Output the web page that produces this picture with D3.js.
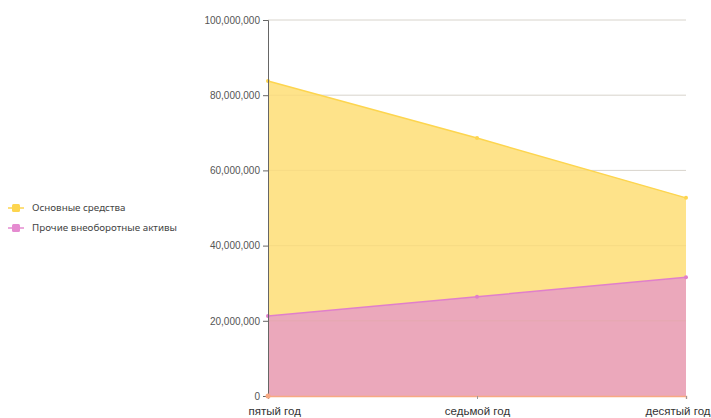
<!DOCTYPE html>
<html>
<head>
<meta charset="utf-8">
<script src="https://cdn.jsdelivr.net/npm/d3@7"></script>
<style>
  html, body { margin: 0; padding: 0; background: #fff; }
  svg { display: block; font-family: "Liberation Sans", Arial, sans-serif; }
</style>
</head>
<body>
<svg id="chart" width="711" height="418"></svg>
<script>
// Periods along the x axis
const categories = ["пятый год", "седьмой год", "десятый год"];
// Series, stacked bottom to top
const otherAssets = [21300000, 26400000, 31600000];   // Прочие внеоборотные активы
const fixedAssets = [62500000, 42200000, 21100000];   // Основные средства
const yTicks = [0, 20000000, 40000000, 60000000, 80000000, 100000000];

const series = [
  { name: "Прочие внеоборотные активы", values: otherAssets, fill: "#eba8bb", stroke: "#e07fcb", marker: "#e58bd0" },
  { name: "Основные средства", values: fixedAssets, fill: "#fee38a", stroke: "#fdd54f", marker: "#fdd54f" }
];

const svg = d3.select("#chart");
const margin = { left: 268, right: 25, top: 20, bottom: 22 };
const W = 711, H = 418;

const x = d3.scalePoint().domain(categories).range([margin.left, W - margin.right]);
const y = d3.scaleLinear().domain([0, 100000000]).range([H - margin.bottom, margin.top]);

// Gridlines
svg.append("g")
  .selectAll("line")
  .data(yTicks)
  .join("line")
  .attr("x1", margin.left).attr("x2", W - margin.right)
  .attr("y1", d => y(d)).attr("y2", d => y(d))
  .attr("stroke", "#dcdcdc").attr("stroke-width", 1);

// Stack the series
const rows = categories.map((c, i) => {
  const r = { cat: c };
  series.forEach(s => r[s.name] = s.values[i]);
  return r;
});
const stacked = d3.stack().keys(series.map(s => s.name))(rows);

const area = d3.area()
  .x(d => x(d.data.cat))
  .y0(d => y(d[0]))
  .y1(d => y(d[1]));
const line = d3.line()
  .x(d => x(d.data.cat))
  .y(d => y(d[1]));

stacked.forEach((layer, i) => {
  const s = series[i];
  svg.append("path").datum(layer)
    .attr("d", area)
    .attr("fill", s.fill);
});
// Gridlines faintly visible over the areas
svg.append("g")
  .selectAll("line")
  .data(yTicks.slice(1))
  .join("line")
  .attr("x1", margin.left).attr("x2", W - margin.right)
  .attr("y1", d => y(d)).attr("y2", d => y(d))
  .attr("stroke", "#c8a860").attr("stroke-opacity", 0.12).attr("stroke-width", 1);

stacked.forEach((layer, i) => {
  const s = series[i];
  svg.append("path").datum(layer)
    .attr("d", line)
    .attr("fill", "none")
    .attr("stroke", s.stroke)
    .attr("stroke-width", 1.5);
  svg.append("g").selectAll("circle")
    .data(layer)
    .join("circle")
    .attr("cx", d => x(d.data.cat))
    .attr("cy", d => y(d[1]))
    .attr("r", 2)
    .attr("fill", s.stroke);
});

// Y axis
const yAxis = d3.axisLeft(y)
  .tickValues(yTicks)
  .tickFormat(d3.format(","))
  .tickSize(5)
  .tickPadding(3);
const gy = svg.append("g")
  .attr("transform", `translate(${margin.left},0)`)
  .call(yAxis);
gy.select(".domain").attr("stroke", "#666").attr("stroke-width", 1);
gy.selectAll(".tick line").attr("stroke", "#666");
gy.selectAll(".tick text").attr("fill", "#555").style("font-size", "10px");

// X axis
const xAxis = d3.axisBottom(x).tickSize(3).tickPadding(8);
const gx = svg.append("g")
  .attr("transform", `translate(0,${y(0)})`)
  .call(xAxis);
gx.select(".domain").attr("stroke", "#f7a983").attr("stroke-width", 1.5);
gx.selectAll(".tick line").attr("stroke", "#999");
gx.selectAll(".tick text").attr("fill", "#333").style("font-size", "11.5px");
// Keep the outer labels inside the drawing area
const last = categories.length - 1;
gx.selectAll(".tick text")
  .attr("text-anchor", (d, i) => i === 0 ? "start" : i === last ? "end" : "middle")
  .attr("dx", (d, i) => i === 0 ? -20 : i === last ? 24 : 0);
svg.append("circle")
  .attr("cx", x(categories[0])).attr("cy", y(0)).attr("r", 2.5).attr("fill", "#f7a983");

// Legend
const legendItems = [series[1], series[0]];
const lg = svg.append("g").attr("transform", "translate(8,208)");
legendItems.forEach((s, i) => {
  const g = lg.append("g").attr("transform", `translate(0,${i * 20})`);
  g.append("line").attr("x1", 0).attr("x2", 16).attr("y1", 0).attr("y2", 0)
    .attr("stroke", s.marker).attr("stroke-width", 1.5);
  g.append("rect").attr("x", 4).attr("y", -4).attr("width", 8).attr("height", 8)
    .attr("rx", 1.5).attr("fill", s.marker);
  g.append("text").attr("x", 24).attr("y", 0).attr("dy", "0.35em")
    .attr("fill", "#444")
    .style("font-family", "'Noto Sans', 'Open Sans', sans-serif")
    .style("font-size", "9.8px")
    .text(s.name);
});
</script>
</body>
</html>
